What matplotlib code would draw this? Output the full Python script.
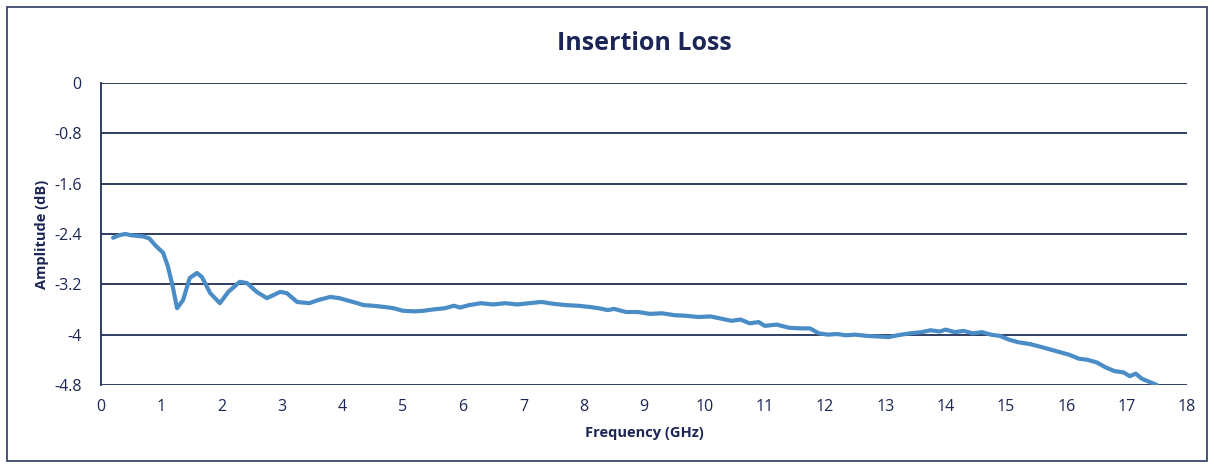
import matplotlib
matplotlib.use("Agg")
import matplotlib.pyplot as plt
from matplotlib.patches import Rectangle

# frequency (GHz) and amplitude (dB)
freq = [0.2, 0.3, 0.4, 0.5, 0.6, 0.7, 0.8, 0.9, 1.03, 1.11, 1.19, 1.26, 1.36, 1.47,
        1.59, 1.67, 1.81, 1.97, 2.11, 2.3, 2.42, 2.58, 2.75, 2.97, 3.08, 3.25,
        3.45, 3.6, 3.8, 3.95, 4.1, 4.25, 4.35,
        4.5, 4.7, 4.85, 5.0, 5.2, 5.35, 5.5, 5.7, 5.85, 5.95, 6.1, 6.3, 6.5,
        6.7, 6.9, 7.1, 7.3, 7.5, 7.7, 7.9, 8.1, 8.25, 8.4, 8.5, 8.7, 8.9, 9.1,
        9.3, 9.5, 9.7, 9.9, 10.1, 10.3, 10.45, 10.6, 10.75, 10.9, 11.0, 11.2,
        11.4, 11.6, 11.75, 11.9, 12.05, 12.2, 12.35, 12.5, 12.7, 12.9, 13.05,
        13.2, 13.4, 13.6, 13.75, 13.9, 14.0, 14.15, 14.3, 14.45, 14.6, 14.75,
        14.9, 15.05, 15.2, 15.4, 15.6, 15.75, 15.9, 16.05, 16.2, 16.35, 16.5,
        16.65, 16.8, 16.95, 17.05, 17.15, 17.25, 17.35, 17.5]
amp = [-2.46, -2.42, -2.40, -2.42, -2.43, -2.44, -2.47, -2.58, -2.70, -2.92,
       -3.24, -3.58, -3.45, -3.10, -3.02, -3.08, -3.34, -3.50, -3.32, -3.16,
       -3.18, -3.32, -3.42, -3.32, -3.34, -3.48,
       -3.50, -3.45, -3.40, -3.42, -3.46, -3.50, -3.53,
       -3.54, -3.56, -3.58, -3.62, -3.63, -3.62, -3.60, -3.58, -3.54, -3.57,
       -3.53, -3.50, -3.52, -3.50, -3.52, -3.50, -3.48, -3.51, -3.53, -3.54,
       -3.56, -3.58, -3.61, -3.59, -3.64, -3.64, -3.67, -3.66, -3.69, -3.70,
       -3.72, -3.71, -3.75, -3.78, -3.76, -3.82, -3.80, -3.86, -3.84, -3.89,
       -3.90, -3.90, -3.98, -4.00, -3.99, -4.01, -4.00, -4.02, -4.03, -4.04,
       -4.01, -3.98, -3.96, -3.93, -3.95, -3.92, -3.96, -3.94, -3.98, -3.96,
       -4.00, -4.02, -4.08, -4.12, -4.15, -4.20, -4.24, -4.28, -4.32, -4.38,
       -4.40, -4.44, -4.52, -4.58, -4.60, -4.66, -4.62, -4.70, -4.74, -4.80]

x_ticks = list(range(0, 19))
y_ticks = [0, -0.8, -1.6, -2.4, -3.2, -4, -4.8]
y_labels = ["0", "-0.8", "-1.6", "-2.4", "-3.2", "-4", "-4.8"]

navy = "#1f2f55"
text_col = "#1c2656"

plt.rcParams['font.family'] = ['Open Sans', 'DejaVu Sans']

fig = plt.figure(figsize=(12.14, 4.67), dpi=100)
fig.patches.append(Rectangle((0.006, 0.012), 0.988, 0.973, transform=fig.transFigure,
                             fill=False, edgecolor="#2a3a60", linewidth=1.2))

ax = fig.add_axes([0.0832, 0.1756, 0.8946, 0.6467])
ax.plot(freq, amp, color="#4a8cc6", linewidth=3, solid_capstyle="round")

ax.set_xlim(0, 18)
ax.set_ylim(-4.8, 0)
ax.set_xticks(x_ticks)
ax.set_yticks(y_ticks)
ax.set_yticklabels(y_labels)
ax.grid(axis="y", color=navy, linewidth=1.3)
ax.set_axisbelow(True)
for s in ["top", "right", "bottom"]:
    ax.spines[s].set_visible(False)
ax.spines["left"].set_color(navy)
ax.spines["left"].set_linewidth(1.3)
ax.tick_params(length=0, labelsize=11.5, labelcolor=text_col, pad=14)
ax.tick_params(axis="x", pad=10)

ax.set_title("Insertion Loss", fontsize=18, fontweight="bold", color=text_col, pad=24)
ax.set_xlabel("Frequency (GHz)", fontsize=10.5, fontweight="bold", color=text_col, labelpad=8)
ax.set_ylabel("Amplitude (dB)", fontsize=10.5, fontweight="bold", color=text_col, labelpad=4)

fig.savefig("out.png", dpi=100)
